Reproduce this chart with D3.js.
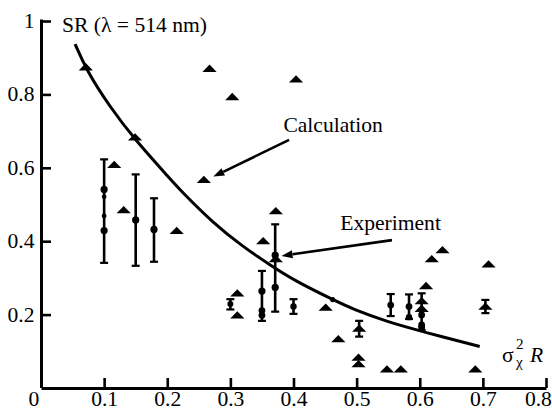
<!DOCTYPE html>
<html>
<head>
<meta charset="utf-8">
<script src="https://cdn.jsdelivr.net/npm/d3@7/dist/d3.min.js"></script>
<style>
  html, body { margin: 0; padding: 0; background: #fff; }
  svg { display: block; }
</style>
</head>
<body>
<svg id="chart" width="552" height="411"></svg>
<script>
// Axis ticks
const xTicks = [0, 0.1, 0.2, 0.3, 0.4, 0.5, 0.6, 0.7, 0.8];
const xTickLabels = ["0", "0.1", "0.2", "0.3", "0.4", "0.5", "0.6", "0.7", "0.8"];
const yTicks = [0.2, 0.4, 0.6, 0.8, 1];
const yTickLabels = ["0.2", "0.4", "0.6", "0.8", "1"];

// Calculated Strehl ratio curve
const curveX = [0.054, 0.072, 0.109, 0.149, 0.204, 0.220, 0.273, 0.320, 0.363, 0.400, 0.463, 0.495, 0.548, 0.600, 0.632, 0.695];
const curveY = [0.937, 0.866, 0.766, 0.676, 0.571, 0.540, 0.449, 0.385, 0.335, 0.294, 0.240, 0.214, 0.181, 0.156, 0.141, 0.113];

// Simulated realisations (triangles)
const calcX = [0.071, 0.149, 0.267, 0.303, 0.404, 0.116, 0.258, 0.131, 0.215, 0.372, 0.352, 0.311, 0.311,
               0.451, 0.471, 0.503, 0.503, 0.548, 0.570, 0.688, 0.619, 0.636, 0.709, 0.610, 0.372, 0.603, 0.603,
               0.504, 0.704];
const calcY = [0.872, 0.681, 0.868, 0.791, 0.839, 0.606, 0.565, 0.483, 0.426, 0.480, 0.398, 0.256, 0.196,
               0.217, 0.131, 0.081, 0.063, 0.049, 0.049, 0.049, 0.349, 0.374, 0.335, 0.276, 0.349, 0.235, 0.214,
               0.160, 0.220];

// Measured values (dots)
const expX = [0.1, 0.1, 0.1, 0.1, 0.150, 0.179, 0.300, 0.350, 0.350, 0.350, 0.371, 0.371, 0.400, 0.462,
              0.554, 0.583, 0.583, 0.603, 0.603, 0.603];
const expY = [0.541, 0.521, 0.469, 0.429, 0.458, 0.432, 0.229, 0.264, 0.211, 0.198, 0.362, 0.274, 0.222, 0.241,
              0.226, 0.222, 0.193, 0.199, 0.172, 0.165];
const expR = [3.6, 2.4, 2.4, 3.6, 3.6, 3.6, 3.0, 3.6, 3.4, 3.4, 3.6, 3.6, 3.2, 2.6,
              3.4, 3.4, 3.2, 3.4, 3.4, 3.4];

// Error bars (low / high)
const barX  = [0.1, 0.150, 0.179, 0.300, 0.350, 0.371, 0.400, 0.504, 0.554, 0.583, 0.603, 0.704];
const barLo = [0.341, 0.333, 0.344, 0.214, 0.183, 0.208, 0.202, 0.140, 0.196, 0.188, 0.158, 0.204];
const barHi = [0.623, 0.582, 0.517, 0.242, 0.319, 0.446, 0.242, 0.183, 0.256, 0.255, 0.258, 0.240];

// Callouts: text, text anchor point, arrow tail, arrow tip (data units)
const noteText = ["Calculation", "Experiment"];
const noteAt   = [[0.384, 0.697], [0.474, 0.431]];
const noteTail = [[0.393, 0.676], [0.556, 0.403]];
const noteTip  = [[0.273, 0.576], [0.381, 0.360]];

const FONT = "Liberation Serif";
const svg = d3.select("#chart");
const x = d3.scaleLinear().domain([0, 0.8]).range([41, 546]);
const y = d3.scaleLinear().domain([0, 1]).range([388, 21]);
const SX = 1.08; // horizontal stretch of the type

// Axes
const xAxis = d3.axisBottom(x).tickValues(xTicks).tickFormat((d, i) => xTickLabels[i])
  .tickSizeInner(-10).tickSizeOuter(0).tickPadding(4);
const yAxis = d3.axisLeft(y).tickValues(yTicks).tickFormat((d, i) => yTickLabels[i])
  .tickSizeInner(-10).tickSizeOuter(0).tickPadding(6);

const gx = svg.append("g").attr("transform", `translate(0,${y(0)})`).call(xAxis);
const gy = svg.append("g").attr("transform", `translate(${x(0)},0)`).call(yAxis);

[gx, gy].forEach(g => {
  g.attr("font-family", FONT).attr("font-size", 20);
  g.select(".domain").attr("stroke", "#000").attr("stroke-width", 3);
  g.selectAll(".tick line").attr("stroke", "#000").attr("stroke-width", 2.6);
  g.selectAll(".tick text")
    .attr("font-family", FONT).attr("font-size", 20)
    .attr("fill", "#000").attr("transform", `scale(${SX},1)`);
});
gy.select(".domain").attr("d", `M0.5,${y(0)}V${y(1) - 1.5}`);
// first and last x labels sit clear of the frame corners
gx.selectAll(".tick text").filter(d => d === 0).attr("text-anchor", "end").attr("x", -2);
gx.selectAll(".tick text").filter(d => d === 0.8).attr("text-anchor", "end").attr("x", 5);
gx.selectAll(".tick").filter(d => d === 0).select("line").remove();

// Curve
const curvePts = curveX.map((v, i) => [v, curveY[i]]);
svg.append("path")
  .datum(curvePts)
  .attr("fill", "none").attr("stroke", "#000").attr("stroke-width", 3)
  .attr("d", d3.line().x(d => x(d[0])).y(d => y(d[1])).curve(d3.curveBasis));

// Error bars
const bars = svg.append("g").attr("stroke", "#000");
barX.forEach((v, i) => {
  const cx = x(v);
  bars.append("line").attr("x1", cx).attr("x2", cx).attr("y1", y(barLo[i])).attr("y2", y(barHi[i]))
    .attr("stroke-width", 2.6);
  [barLo[i], barHi[i]].forEach(e => {
    bars.append("line").attr("x1", cx - 4).attr("x2", cx + 4).attr("y1", y(e)).attr("y2", y(e))
      .attr("stroke-width", 2.2);
  });
});

// Triangles
const tri = d3.symbol().type(d3.symbolTriangle).size(48);
svg.append("g").selectAll("path")
  .data(calcX.map((v, i) => [v, calcY[i]]))
  .join("path")
  .attr("d", tri)
  .attr("fill", "#000")
  .attr("transform", d => `translate(${x(d[0])},${y(d[1])}) scale(1.35,0.8)`);

// Dots
svg.append("g").selectAll("circle")
  .data(expX.map((v, i) => [v, expY[i], expR[i]]))
  .join("circle")
  .attr("cx", d => x(d[0])).attr("cy", d => y(d[1])).attr("r", d => d[2])
  .attr("fill", "#000");

// Callout arrows
noteText.forEach((t, i) => {
  const x0 = x(noteTail[i][0]), y0 = y(noteTail[i][1]);
  const x1 = x(noteTip[i][0]),  y1 = y(noteTip[i][1]);
  const a = Math.atan2(y1 - y0, x1 - x0);
  const L = 11, hw = 4;
  const bx = x1 - L * Math.cos(a), by = y1 - L * Math.sin(a);
  svg.append("line").attr("x1", x0).attr("y1", y0).attr("x2", bx).attr("y2", by)
    .attr("stroke", "#000").attr("stroke-width", 2.6);
  svg.append("path").attr("fill", "#000")
    .attr("d", `M${x1},${y1}L${bx + hw * Math.sin(a)},${by - hw * Math.cos(a)}L${bx - hw * Math.sin(a)},${by + hw * Math.cos(a)}Z`);
  svg.append("text")
    .attr("transform", `translate(${x(noteAt[i][0])},${y(noteAt[i][1])}) scale(${SX},1)`)
    .attr("font-family", FONT).attr("font-size", 20)
    .text(t);
});

// Axis titles
svg.append("text")
  .attr("transform", `translate(62,31.5) scale(${SX},1)`)
  .attr("font-family", FONT).attr("font-size", 20)
  .text("SR (λ = 514 nm)");

const xt = svg.append("g").attr("transform", `translate(502,362) scale(${SX},1)`);
xt.append("text").attr("x", 0).attr("y", 0).attr("font-family", FONT).attr("font-size", 20).text("σ");
xt.append("text").attr("x", 13).attr("y", -13).attr("font-family", FONT).attr("font-size", 14).text("2");
xt.append("text").attr("x", 13).attr("y", 5).attr("font-family", FONT).attr("font-size", 14).text("χ");
xt.append("text").attr("x", 26).attr("y", 0).attr("font-family", FONT).attr("font-size", 20)
  .attr("font-style", "italic").text("R");
</script>
</body>
</html>
